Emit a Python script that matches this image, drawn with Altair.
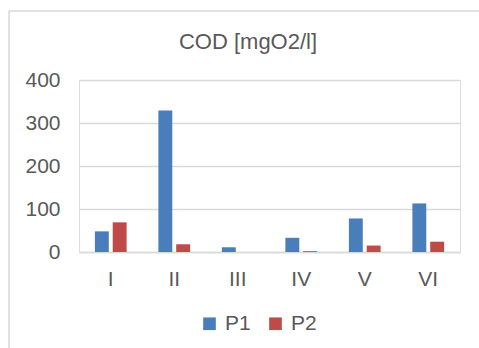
import altair as alt
import pandas as pd

# Sampling sites and COD readings for the two sampling points
sites = ["I", "II", "III", "IV", "V", "VI"]
p1_values = [48, 329, 11, 33, 78, 113]
p2_values = [69, 18, 0, 2, 15, 24]
series = ["P1", "P2"]
colors = ["#4a7ebb", "#be4b48"]
title_text = "COD [mgO2/l]"

rows = []
for s, a, b in zip(sites, p1_values, p2_values):
    rows.append({"site": s, "series": "P1", "cod": a})
    rows.append({"site": s, "series": "P2", "cod": b})
df = pd.DataFrame(rows)
one = pd.DataFrame({"title": [title_text]})

FONT = "Liberation Sans"
TXT = "#595959"
GRID = "#d9d9d9"
LABEL_SIZE = 21

bars = alt.Chart(df).mark_bar().encode(
    x=alt.X(
        "site:N",
        sort=sites,
        scale=alt.Scale(paddingInner=0.5, paddingOuter=0.25),
        axis=alt.Axis(title=None, labelAngle=0, ticks=False, domainColor=GRID,
                      domainWidth=1.5, labelPadding=16,
                      labelFontSize=LABEL_SIZE, labelFont=FONT,
                      labelColor=TXT),
    ),
    xOffset=alt.XOffset("series:N", sort=series,
                        scale=alt.Scale(paddingInner=0.22)),
    y=alt.Y(
        "cod:Q",
        scale=alt.Scale(domain=[0, 400], nice=False),
        axis=alt.Axis(title=None, values=[0, 100, 200, 300, 400], domain=False,
                      ticks=False, gridColor=GRID, gridWidth=1.5,
                      labelPadding=19, labelFontSize=LABEL_SIZE,
                      labelFont=FONT, labelColor=TXT),
    ),
    color=alt.Color(
        "series:N",
        sort=series,
        scale=alt.Scale(domain=series, range=colors),
        legend=alt.Legend(
            title=None, orient="none", direction="horizontal",
            legendX=120, legendY=233, symbolType="square", symbolSize=160,
            symbolStrokeWidth=0, columnPadding=14, labelOffset=5,
            labelFontSize=LABEL_SIZE, labelFont=FONT, labelColor=TXT,
        ),
    ),
)

# Outer chart frame (left and top edges)
frame_left = alt.Chart(one).mark_rule(color=GRID, strokeWidth=1.5).encode(
    x=alt.value(-70), y=alt.value(-69), y2=alt.value(300)
)
frame_top = alt.Chart(one).mark_rule(color=GRID, strokeWidth=1.5).encode(
    x=alt.value(-70), x2=alt.value(420), y=alt.value(-69)
)

# Chart title, centred over the frame
title = alt.Chart(one).mark_text(
    font=FONT, fontSize=22, color=TXT, align="center", baseline="alphabetic"
).encode(text="title:N", x=alt.value(169), y=alt.value(-31))

chart = (
    alt.layer(frame_left, frame_top, title, bars)
    .properties(
        width=381,
        height=172,
        autosize=alt.AutoSizeParams(type="none"),
        padding={"left": 79, "top": 80, "right": 19, "bottom": 96},
    )
    .configure_view(stroke=None)
    .configure(background="white")
)

chart.save("out.html", embed_options={"renderer": "svg", "actions": False})
